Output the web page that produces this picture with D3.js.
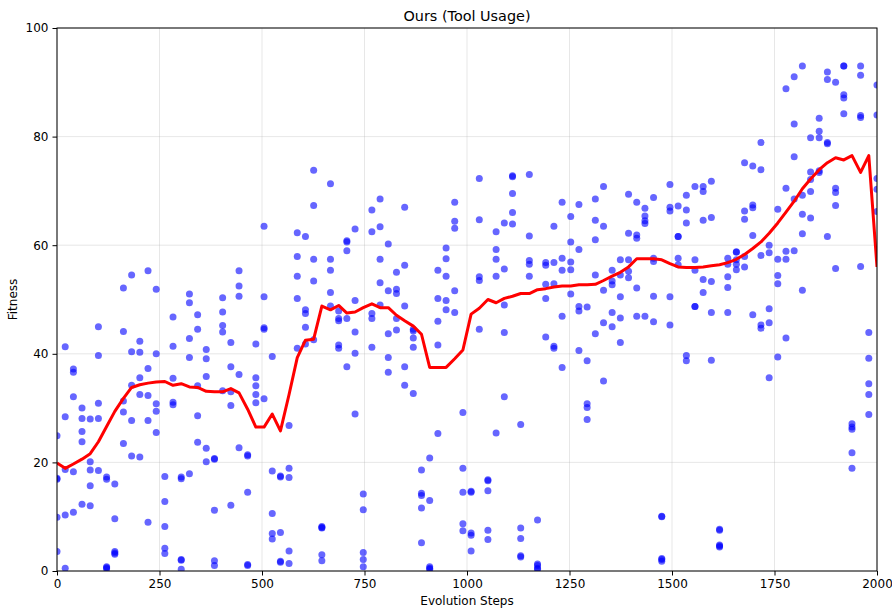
<!DOCTYPE html>
<html>
<head>
<meta charset="utf-8">
<script src="https://cdn.jsdelivr.net/npm/d3@7"></script>
<style>
  body { margin: 0; background: #fff; }
  svg { display: block; font-family: "DejaVu Sans", sans-serif; }
</style>
</head>
<body>
<div id="chart"></div>
<script>
// Evolution step of each generation (x of every column of points)
const steps = [
    0, 20, 40, 61, 81, 101, 121, 141, 162, 182,
    202, 222, 242, 263, 283, 303, 323, 343, 364, 384,
    404, 424, 444, 465, 485, 505, 525, 545, 566, 586,
    606, 626, 646, 667, 687, 707, 727, 747, 768, 788,
    808, 828, 848, 869, 889, 909, 929, 949, 970, 990,
    1010, 1030, 1051, 1071, 1091, 1111, 1131, 1152, 1172, 1192,
    1212, 1232, 1253, 1273, 1293, 1313, 1333, 1354, 1374, 1394,
    1414, 1434, 1455, 1475, 1495, 1515, 1535, 1556, 1576, 1596,
    1616, 1636, 1657, 1677, 1697, 1717, 1737, 1758, 1778, 1798,
    1818, 1838, 1859, 1879, 1899, 1919, 1939, 1960, 1980, 2000
];

// Fitness of the 5 individuals sampled at each step
const fitness = [
    [24.9, 16.9, 9.9, 3.6, 17.1], [41.3, 28.4, 18.7, 10.3, 0.5], [37.2, 36.6, 32.1, 18.3, 10.8],
    [30.0, 28.1, 25.7, 23.8, 12.3], [28.0, 20.1, 18.6, 15.7, 12.0], [45.0, 39.7, 30.9, 28.1, 18.5],
    [16.9, 17.3, 0.8, 0.4, 0.6], [16.0, 9.6, 3.6, 3.1, 3.3], [52.1, 44.1, 31.3, 29.3, 23.5],
    [54.5, 40.4, 34.2, 27.7, 21.2], [42.3, 40.3, 35.6, 32.5, 21.0], [55.3, 37.3, 32.3, 27.7, 9.0],
    [51.9, 40.0, 30.8, 29.4, 25.5], [17.4, 12.8, 8.2, 4.2, 3.2], [46.8, 41.4, 35.5, 31.1, 30.6],
    [17.3, 2.1, 0.3, 2.0, 17.0], [51.0, 49.4, 42.8, 39.3, 17.9], [47.2, 44.5, 34.1, 28.6, 23.7],
    [40.8, 39.1, 35.8, 22.6, 20.1], [20.7, 20.6, 11.2, 1.9, 1.0], [50.3, 47.7, 45.2, 44.0, 33.2],
    [42.1, 37.6, 33.0, 30.5, 12.1], [55.3, 52.5, 50.6, 36.2, 22.7], [21.4, 14.5, 1.0, 21.2, 1.2],
    [41.8, 35.6, 34.1, 32.5, 31.0], [63.5, 50.5, 44.8, 44.5, 31.7], [39.5, 18.4, 10.6, 6.9, 5.9],
    [17.5, 7.1, 1.8, 17.3, 1.6], [26.8, 18.9, 17.2, 3.7, 1.4], [62.3, 57.9, 54.3, 50.2, 41.0],
    [61.6, 48.1, 47.4, 44.9, 41.8], [73.8, 67.3, 57.4, 53.4, 42.6], [8.2, 7.9, 3.0, 1.9, 8.0],
    [71.3, 57.4, 55.4, 51.3, 48.8], [47.9, 46.5, 46.1, 41.6, 41.0], [60.8, 60.6, 59.0, 46.5, 37.6],
    [63.0, 49.8, 44.0, 40.1, 28.9], [14.2, 11.3, 3.4, 2.1, 0.8], [66.5, 62.5, 47.4, 46.5, 41.2],
    [68.5, 63.4, 57.4, 53.1, 49.0], [60.2, 51.6, 43.7, 39.3, 36.6], [55.0, 51.9, 51.1, 46.5, 44.4],
    [67.0, 56.3, 48.8, 37.6, 34.2], [44.5, 44.2, 42.9, 41.2, 32.7], [18.6, 14.3, 13.9, 11.6, 5.2],
    [20.8, 13.0, 0.8, 0.5, 0.3], [55.4, 50.2, 46.0, 41.6, 25.3], [59.5, 57.5, 54.3, 49.8, 48.1],
    [67.9, 64.4, 63.1, 51.6, 47.6], [29.2, 18.9, 14.5, 8.7, 7.4], [14.7, 6.6, 3.7, 14.5, 7.0],
    [72.3, 64.7, 54.2, 53.5, 44.5], [16.8, 14.8, 7.5, 5.8, 16.6], [62.5, 59.2, 57.4, 54.3, 25.4],
    [64.1, 55.6, 49.0, 43.9, 32.1], [72.8, 72.6, 69.5, 66.0, 63.9], [27.0, 7.9, 2.8, 6.0, 2.6],
    [73.0, 61.7, 57.2, 56.5, 54.3], [9.4, 1.3, 1.0, 0.3, 0.5], [56.8, 56.3, 52.8, 50.2, 43.1],
    [63.5, 56.8, 52.9, 41.4, 41.0], [67.9, 57.6, 55.4, 46.9, 37.5], [65.3, 60.6, 56.9, 55.5, 51.0],
    [67.5, 59.2, 48.7, 47.9, 40.6], [48.6, 38.7, 30.8, 30.1, 27.9], [68.5, 64.6, 61.0, 54.5, 43.7],
    [70.8, 63.5, 51.7, 45.7, 35.0], [55.4, 53.4, 52.7, 47.6, 45.0], [57.3, 54.5, 50.5, 46.6, 42.1],
    [69.4, 62.2, 57.3, 55.2, 54.0], [67.9, 61.9, 61.3, 52.1, 46.9], [66.8, 65.4, 64.5, 64.0, 46.9],
    [68.8, 57.6, 57.0, 50.6, 45.9], [10.1, 2.1, 2.3, 10.0, 1.8], [71.2, 67.0, 66.3, 50.5, 45.3],
    [67.2, 61.6, 61.6, 57.6, 56.4], [69.2, 66.5, 64.1, 39.7, 38.7], [70.8, 57.3, 55.4, 48.7, 48.7],
    [70.8, 69.9, 64.6, 53.7, 51.3], [71.8, 65.1, 53.3, 47.6, 38.8], [7.7, 4.6, 7.5, 4.4, 4.8],
    [57.6, 56.5, 54.2, 52.2, 47.6], [58.8, 58.7, 57.3, 56.5, 55.5], [75.2, 66.3, 64.8, 57.9, 56.0],
    [74.6, 67.4, 66.9, 61.8, 47.2], [78.9, 73.9, 58.1, 45.3, 44.7], [60.0, 58.6, 48.3, 45.7, 35.6],
    [66.6, 57.4, 54.4, 52.9, 39.4], [88.8, 70.5, 58.9, 57.4, 42.9], [91.0, 82.3, 76.3, 68.5, 59.0],
    [93.0, 69.2, 65.7, 62.1, 51.7], [79.8, 73.5, 72.1, 69.9, 65.0], [83.4, 81.0, 79.8, 73.7, 73.4],
    [91.9, 90.5, 78.9, 78.7, 61.6], [90.0, 70.5, 69.7, 67.3, 55.7], [93.0, 93.0, 87.7, 87.1, 84.2],
    [27.1, 26.5, 26.1, 21.8, 18.9], [93.0, 91.3, 83.9, 83.5, 56.1], [43.9, 39.2, 34.5, 32.5, 28.8],
    [89.5, 84.0, 72.3, 70.3, 66.2]
];

// Smoothed fitness (red curve), one value per step
const smoothed = [
    19.9, 18.9, 19.7, 20.6, 21.6, 23.8, 26.6, 29.4, 31.8, 33.8,
    34.3, 34.6, 34.8, 34.9, 34.2, 34.5, 33.9, 33.8, 33.1, 33.0,
    33.0, 33.6, 32.8, 29.8, 26.5, 26.5, 28.9, 25.8, 32.5, 39.3,
    42.5, 42.7, 48.8, 48.1, 48.9, 47.5, 47.7, 48.5, 49.2, 48.5,
    48.5, 47.1, 46.1, 45.1, 43.6, 37.5, 37.5, 37.5, 39.1, 40.7,
    47.3, 48.4, 50.0, 49.4, 50.2, 50.6, 51.1, 51.1, 51.8, 52.0,
    52.3, 52.5, 52.5, 52.7, 52.7, 52.8, 53.5, 54.3, 55.0, 56.0,
    57.5, 57.5, 57.5, 57.3, 56.6, 56.0, 55.9, 55.9, 56.0, 56.2,
    56.4, 56.8, 57.4, 58.3, 59.4, 60.6, 62.2, 64.1, 66.1, 68.1,
    70.4, 72.2, 73.9, 75.2, 76.1, 75.7, 76.5, 73.4, 76.5, 56.0
];

const xTicks = [0, 250, 500, 750, 1000, 1250, 1500, 1750, 2000];
const yTicks = [0, 20, 40, 60, 80, 100];

const W = 892, H = 609;
const margin = { top: 28, right: 15, bottom: 38, left: 57 };
const width = W - margin.left - margin.right;   // 820
const height = H - margin.top - margin.bottom;  // 543

const svg = d3.select('#chart').append('svg')
    .attr('width', W)
    .attr('height', H);

const g = svg.append('g')
    .attr('transform', `translate(${margin.left},${margin.top})`);

const x = d3.scaleLinear().domain([0, 2000]).range([0, width]);
const y = d3.scaleLinear().domain([0, 100]).range([height, 0]);

g.append('clipPath').attr('id', 'plot-clip')
    .append('rect').attr('width', width).attr('height', height);

// grid
g.append('g')
    .selectAll('line')
    .data(xTicks)
    .join('line')
    .attr('x1', d => x(d)).attr('x2', d => x(d))
    .attr('y1', 0).attr('y2', height)
    .attr('stroke', '#b0b0b0').attr('stroke-opacity', 0.3).attr('stroke-width', 1);

g.append('g')
    .selectAll('line')
    .data(yTicks)
    .join('line')
    .attr('x1', 0).attr('x2', width)
    .attr('y1', d => y(d)).attr('y2', d => y(d))
    .attr('stroke', '#b0b0b0').attr('stroke-opacity', 0.3).attr('stroke-width', 1);

// scatter of every individual
const points = steps.flatMap((s, i) => fitness[i].map(v => ({ step: s, value: v })));

g.append('g')
    .attr('clip-path', 'url(#plot-clip)')
    .selectAll('circle')
    .data(points)
    .join('circle')
    .attr('cx', d => x(d.step))
    .attr('cy', d => y(d.value))
    .attr('r', 3.5)
    .attr('fill', '#0000ff')
    .attr('fill-opacity', 0.6);

// smoothed line
const line = d3.line()
    .x((d, i) => x(steps[i]))
    .y(d => y(d));

g.append('path')
    .datum(smoothed)
    .attr('clip-path', 'url(#plot-clip)')
    .attr('d', line)
    .attr('fill', 'none')
    .attr('stroke', '#ff0000')
    .attr('stroke-width', 3)
    .attr('stroke-linejoin', 'round');

// axes
const xAxis = g.append('g')
    .attr('transform', `translate(0,${height})`)
    .call(d3.axisBottom(x).tickValues(xTicks).tickFormat(d3.format('d')).tickSizeOuter(0).tickSize(4.5).tickPadding(4));

const yAxis = g.append('g')
    .call(d3.axisLeft(y).tickValues(yTicks).tickFormat(d3.format('d')).tickSizeOuter(0).tickSize(4.5).tickPadding(4));

[xAxis, yAxis].forEach(a => {
    a.select('.domain').remove();
    a.selectAll('text')
        .attr('font-family', '"DejaVu Sans", sans-serif')
        .attr('font-size', 12)
        .attr('fill', '#000');
    a.selectAll('.tick line').attr('stroke', '#000').attr('stroke-width', 1);
});

// frame
g.append('rect')
    .attr('width', width).attr('height', height)
    .attr('fill', 'none').attr('stroke', '#000').attr('stroke-width', 1);

// labels
svg.append('text')
    .attr('x', margin.left + width / 2).attr('y', 21)
    .attr('text-anchor', 'middle')
    .attr('font-size', 14.4)
    .text('Ours (Tool Usage)');

svg.append('text')
    .attr('x', margin.left + width / 2).attr('y', 605)
    .attr('text-anchor', 'middle')
    .attr('font-size', 12)
    .text('Evolution Steps');

svg.append('text')
    .attr('transform', `translate(17,${margin.top + height / 2}) rotate(-90)`)
    .attr('text-anchor', 'middle')
    .attr('font-size', 12)
    .text('Fitness');
</script>
</body>
</html>
